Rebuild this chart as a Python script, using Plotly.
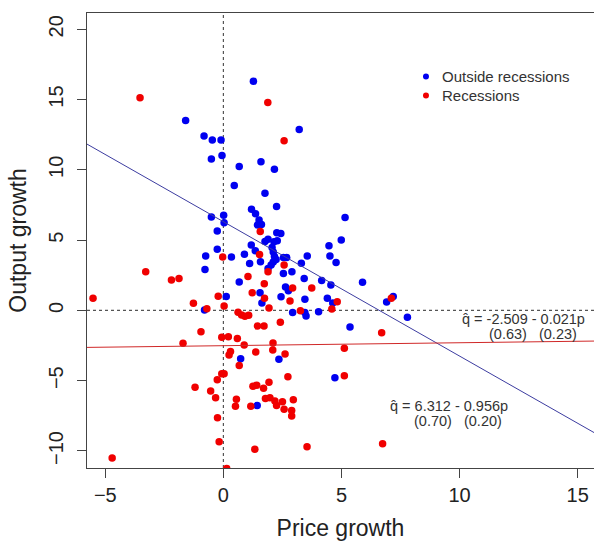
import plotly.graph_objects as go

# Price growth (p) and output growth (q), split by business-cycle phase
out_p = [1.27, 3.21, -1.60, -0.82, -0.47, -0.10, -0.51, -0.06, 0.67, 1.59,
         2.16, 0.46, 1.76, 2.25, 1.19, 1.36, 5.15, -0.51, 0.01, 0.03,
         1.51, 1.61, 1.44, -0.26, 2.26, 2.43, 1.76, 1.89, 2.14, 2.28,
         1.18, 4.47, 4.99, -0.26, 1.35, 2.06, 2.11, 2.16, 2.23, 2.11,
         2.02, 1.89, 2.54, 2.68, -0.75, 0.34, 0.89, 1.11, 1.57, 3.55,
         4.51, 4.77, 3.30, 2.54, 2.90, 3.42, 4.16, 4.55, 5.89, 2.63,
         2.75, 0.67, -0.78, 1.55, 0.12, 2.44, 3.45, 4.40, 4.63, 7.19,
         6.91, 1.63, -0.80, 2.93, 3.45, 3.50, 4.03, 7.79, 5.36, 0.73,
         2.35, 4.72, 1.43]
out_q = [16.30, 12.88, 13.51, 12.41, 12.12, 12.12, 10.77, 11.03, 10.24, 10.58,
         10.04, 8.89, 8.34, 7.39, 7.20, 6.88, 6.62, 6.64, 6.77, 6.24,
         6.43, 6.11, 6.08, 5.65, 5.53, 5.48, 4.90, 5.06, 4.89, 4.96,
         4.65, 4.60, 5.01, 4.35, 4.25, 4.47, 4.15, 3.83, 3.62, 3.44,
         3.23, 2.98, 3.76, 3.76, 3.87, 3.80, 3.99, 3.34, 3.46, 3.87,
         3.87, 3.41, 3.35, 2.63, 2.75, 2.28, 2.13, 1.81, 2.00, 1.66,
         1.40, 2.02, 2.91, 1.26, 0.99, 0.97, 0.80, 0.86, 0.53, 0.99,
         0.60, 0.53, 0.03, -0.15, -0.15, -0.40, -0.09, -0.49, -1.18, -3.44,
         -3.48, -4.79, -6.77]

rec_p = [-3.53, 1.88, 2.57, 1.56, 1.53, -0.03, 2.57, 1.89, -3.29, -2.20,
         -1.88, 1.04, 1.73, 2.93, 3.74, 1.22, -0.22, 1.74, 2.82, 4.82,
         7.11, -5.52, -1.27, 0.03, -0.70, 1.93, 3.26, 4.59, 0.62, 0.77,
         0.91, 1.07, 2.41, 1.44, 1.72, -0.95, 6.70, -0.07, 0.21, 0.59,
         -1.71, 0.88, 2.10, 2.09, 5.12, 0.30, 0.24, 1.37, 2.61, 0.67,
         -0.07, 0.03, -0.26, 2.73, 5.12, -1.20, -0.54, -0.33, 1.25, 1.41,
         1.70, 1.93, 0.55, 0.51, 1.16, 1.78, 1.97, 2.18, 2.25, 2.50,
         2.57, 2.96, 2.89, 2.89, -0.25, -0.18, 1.33, -4.71, 0.14, 3.54,
         6.74]
rec_q = [15.13, 14.79, 12.07, 5.61, 3.98, 3.80, 3.23, 2.75, 2.75, 2.16,
         2.28, 2.41, 1.89, 1.59, 1.59, 1.26, 1.00, 0.86, 0.67, 0.62,
         0.86, 0.86, 0.51, 0.31, 0.12, 0.17, -0.02, 0.10, -0.13, -0.33,
         -0.42, -0.35, -0.84, -1.11, -1.11, -1.52, -1.59, -1.91, -1.87, -2.00,
         -2.34, -2.46, -2.32, -2.82, -2.69, -2.92, -3.17, -2.96, -3.10, -3.91,
         -4.50, -4.50, -4.93, -4.72, -4.65, -5.47, -5.73, -6.21, -5.40, -5.32,
         -5.54, -5.11, -6.32, -6.82, -6.82, -6.27, -6.21, -6.45, -6.77, -6.50,
         -7.03, -6.35, -7.12, -7.51, -7.63, -9.35, -9.87, -10.50, -11.25, -9.70,
         -9.48]

# Fitted lines q = a + b p
fit_out = (6.312, -0.956)
fit_rec = (-2.509, 0.021)

eq_out = ["q\u0302 = 6.312 - 0.956p", "(0.70)   (0.20)"]
eq_rec = ["q\u0302 = -2.509 - 0.021p", "(0.63)   (0.23)"]

legend_names = ["Outside recessions", "Recessions"]

x_ticks = [-5, 0, 5, 10, 15]
y_ticks = [-10, -5, 0, 5, 10, 15, 20]
x_range = [-5.775, 15.69]
y_range = [-11.21, 21.16]

FONT = "Liberation Sans, Arial, sans-serif"
BLUE = "#0000f0"
RED = "#f00000"
TEXT = "#333333"

fig = go.Figure()

# Reference lines at zero
fig.add_trace(go.Scatter(x=[0, 0], y=y_range, mode="lines",
                         line=dict(color="#555555", width=1.2, dash="dot"),
                         showlegend=False, hoverinfo="skip"))
fig.add_trace(go.Scatter(x=x_range, y=[0, 0], mode="lines",
                         line=dict(color="#555555", width=1.2, dash="dot"),
                         showlegend=False, hoverinfo="skip"))

fig.add_trace(go.Scatter(x=out_p, y=out_q, mode="markers", name=legend_names[0],
                         marker=dict(color=BLUE, size=7.5), showlegend=False))
fig.add_trace(go.Scatter(x=rec_p, y=rec_q, mode="markers", name=legend_names[1],
                         marker=dict(color=RED, size=7.5), showlegend=False))

# Regression lines
for (a, b), col in [(fit_out, "#3c3ca0"), (fit_rec, "#d02828")]:
    fig.add_trace(go.Scatter(x=x_range, y=[a + b * x for x in x_range], mode="lines",
                             line=dict(color=col, width=1), showlegend=False,
                             hoverinfo="skip"))

# Equation labels
def add_eq(lines, x1, y1, x2, y2):
    fig.add_annotation(x=x1, y=y1, text=lines[0], showarrow=False, xanchor="left",
                       yanchor="middle", font=dict(family=FONT, size=14.5, color=TEXT))
    fig.add_annotation(x=x2, y=y2, text=lines[1], showarrow=False, xanchor="left",
                       yanchor="middle", font=dict(family=FONT, size=14.5, color=TEXT))

add_eq(eq_rec, 10.02, -0.62, 11.17, -1.66)
add_eq(eq_out, 6.98, -6.77, 7.97, -7.84)

# Key in the upper right of the plot area
key_x, key_text_x = 0.6686, 0.6963
key_y = [0.8604, 0.8187]
for name, col, ky in zip(legend_names, [BLUE, RED], key_y):
    fig.add_shape(type="circle", xref="paper", yref="paper", xsizemode="pixel",
                  ysizemode="pixel", xanchor=key_x, yanchor=ky,
                  x0=-3, x1=3, y0=-3, y1=3, fillcolor=col, line=dict(width=0))
    fig.add_annotation(xref="paper", yref="paper", x=key_text_x, y=ky, text=name,
                       showarrow=False, xanchor="left", yanchor="middle",
                       font=dict(family=FONT, size=15, color=TEXT))

axis_common = dict(showgrid=False, zeroline=False, showline=True, linecolor="#444444",
                   linewidth=1, ticks="outside", ticklen=9, tickcolor="#444444",
                   tickfont=dict(family=FONT, size=20, color="#222222"))

fig.update_xaxes(range=x_range, tickvals=x_ticks, mirror=True,
                 title=dict(text="Price growth", font=dict(family=FONT, size=23, color="#222222"),
                            standoff=14),
                 **axis_common)
fig.update_yaxes(range=y_range, tickvals=y_ticks, tickangle=-90, mirror=False,
                 ticklabelstandoff=6,
                 title=dict(text="Output growth", font=dict(family=FONT, size=23, color="#222222"),
                            standoff=11),
                 **axis_common)

fig.update_layout(
    width=594, height=543,
    margin=dict(l=87, r=0, t=13, b=75),
    plot_bgcolor="white", paper_bgcolor="white",
    showlegend=False,
)

fig.write_html("out.html")
